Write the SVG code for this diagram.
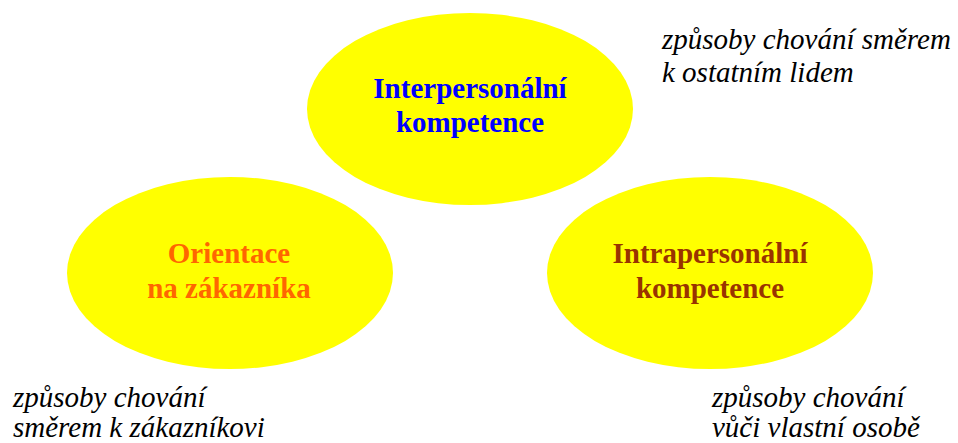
<svg xmlns="http://www.w3.org/2000/svg" width="958" height="443" viewBox="0 0 958 443">
<style>
.bubble{fill:#FFFF00;stroke:none}
.lbl{font-family:'Liberation Serif','DejaVu Serif',serif;font-weight:bold;font-size:29px;text-anchor:middle}
.note{font-family:'Liberation Serif','DejaVu Serif',serif;font-style:italic;font-size:29px;fill:#000}
</style>
<rect width="958" height="443" fill="#FFFFFF"/>
<g id="connectors"></g>
<g id="interpersonal">
<ellipse class="bubble" cx="470" cy="109" rx="163" ry="96"/>
<text class="lbl" font-family="Liberation Serif" fill="#0000FF"><tspan x="470" y="98">Interpersonální</tspan><tspan x="470" y="132">kompetence</tspan></text>
</g>
<g id="customer">
<ellipse class="bubble" cx="230" cy="273" rx="163" ry="96"/>
<text class="lbl" font-family="Liberation Serif" fill="#FF6600"><tspan x="229" y="263">Orientace</tspan><tspan x="229" y="298">na zákazníka</tspan></text>
</g>
<g id="intrapersonal">
<ellipse class="bubble" cx="710" cy="273" rx="163" ry="96"/>
<text class="lbl" font-family="Liberation Serif" fill="#993300"><tspan x="710" y="263">Intrapersonální</tspan><tspan x="710" y="298">kompetence</tspan></text>
</g>
<g id="note-top">
<text class="note" font-family="Liberation Serif"><tspan x="662" y="49">způsoby chování směrem</tspan><tspan x="662" y="82">k ostatním lidem</tspan></text>
</g>
<g id="note-left">
<text class="note" font-family="Liberation Serif"><tspan x="13" y="407">způsoby chování</tspan><tspan x="13" y="437">směrem k zákazníkovi</tspan></text>
</g>
<g id="note-right">
<text class="note" font-family="Liberation Serif"><tspan x="712" y="407">způsoby chování</tspan><tspan x="712" y="437">vůči vlastní osobě</tspan></text>
</g>
</svg>
